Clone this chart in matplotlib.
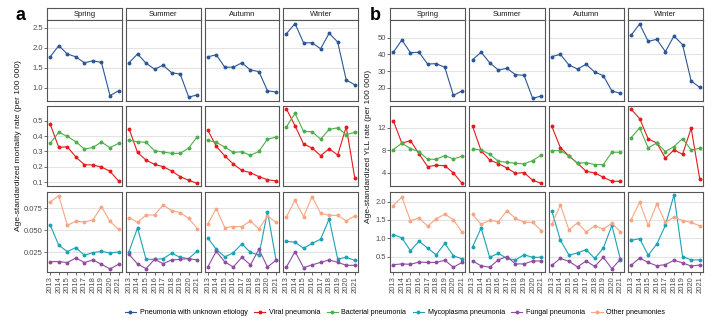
import matplotlib.pyplot as plt
from matplotlib.lines import Line2D

plt.rcParams['font.family'] = ['Liberation Sans', 'DejaVu Sans']

years = list(range(2013, 2022))
seasons = ["Spring", "Summer", "Autumn", "Winter"]

# --- age-standardized mortality rate (per 100 000), one list per season ---
mort_unknown = [
    [1.78, 2.06, 1.85, 1.78, 1.63, 1.68, 1.64, 0.81, 0.93],
    [1.63, 1.85, 1.62, 1.47, 1.57, 1.38, 1.35, 0.77, 0.83],
    [1.78, 1.83, 1.52, 1.52, 1.63, 1.45, 1.41, 0.93, 0.90],
    [2.36, 2.61, 2.13, 2.13, 1.98, 2.37, 2.15, 1.20, 1.08],
]
mort_viral = [
    [0.476, 0.326, 0.330, 0.263, 0.213, 0.211, 0.198, 0.170, 0.107],
    [0.448, 0.293, 0.243, 0.215, 0.200, 0.172, 0.135, 0.111, 0.091],
    [0.439, 0.333, 0.270, 0.217, 0.176, 0.161, 0.135, 0.115, 0.107],
    [0.576, 0.467, 0.348, 0.322, 0.272, 0.317, 0.276, 0.461, 0.126],
]
mort_bacterial = [
    [0.354, 0.424, 0.398, 0.363, 0.315, 0.326, 0.361, 0.324, 0.352],
    [0.372, 0.363, 0.359, 0.304, 0.296, 0.287, 0.287, 0.322, 0.396],
    [0.372, 0.359, 0.328, 0.293, 0.298, 0.274, 0.300, 0.380, 0.393],
    [0.461, 0.548, 0.430, 0.428, 0.380, 0.443, 0.454, 0.409, 0.424],
]
mort_myco = [
    [0.0557, 0.0330, 0.0258, 0.0303, 0.0216, 0.0246, 0.0261, 0.0242, 0.0254],
    [0.0258, 0.0527, 0.0170, 0.0170, 0.0178, 0.0239, 0.0193, 0.0178, 0.0265],
    [0.0413, 0.0284, 0.0197, 0.0246, 0.0345, 0.0250, 0.0216, 0.0712, 0.0163],
    [0.0375, 0.0364, 0.0295, 0.0352, 0.0398, 0.0629, 0.0174, 0.0193, 0.0159],
]
mort_fungal = [
    [0.0144, 0.0144, 0.0133, 0.0186, 0.0133, 0.0163, 0.0114, 0.0061, 0.0114],
    [0.0227, 0.0117, 0.0064, 0.0170, 0.0121, 0.0163, 0.0170, 0.0178, 0.0163],
    [0.0083, 0.0261, 0.0140, 0.0083, 0.0193, 0.0106, 0.0284, 0.0083, 0.0159],
    [0.0083, 0.0258, 0.0076, 0.0106, 0.0136, 0.0163, 0.0136, 0.0102, 0.0102],
]
mort_other = [
    [0.0822, 0.0894, 0.0557, 0.0602, 0.0595, 0.0617, 0.0769, 0.0602, 0.0511],
    [0.0644, 0.0591, 0.0674, 0.0674, 0.0788, 0.0723, 0.0701, 0.0636, 0.0519],
    [0.0572, 0.0746, 0.0530, 0.0542, 0.0542, 0.0606, 0.0515, 0.0663, 0.0591],
    [0.0655, 0.0841, 0.0655, 0.0883, 0.0693, 0.0670, 0.0670, 0.0606, 0.0663],
]

# --- age-standardized YLL rate (per 100 000) ---
yll_unknown = [
    [41.2, 48.6, 41.0, 41.2, 34.2, 34.4, 32.2, 15.4, 18.0],
    [36.8, 41.2, 35.0, 30.6, 31.6, 27.8, 27.4, 13.6, 15.0],
    [38.6, 40.0, 33.6, 31.2, 34.0, 29.4, 27.2, 18.0, 16.6],
    [51.4, 58.2, 47.8, 49.0, 41.6, 51.0, 45.8, 24.0, 20.2],
]
yll_viral = [
    [13.24, 9.24, 9.71, 7.35, 5.12, 5.35, 5.29, 4.00, 2.18],
    [12.24, 7.94, 6.29, 5.65, 4.88, 3.94, 4.06, 2.71, 2.18],
    [12.24, 8.47, 7.00, 5.71, 4.29, 4.00, 3.24, 2.53, 2.53],
    [15.24, 13.59, 10.00, 9.29, 6.59, 8.06, 7.29, 11.88, 2.94],
]
yll_bacterial = [
    [8.12, 9.24, 8.29, 7.76, 6.41, 6.41, 7.06, 6.47, 6.94],
    [8.24, 8.06, 7.29, 6.06, 5.88, 5.71, 5.59, 6.18, 7.18],
    [7.94, 7.94, 7.00, 5.71, 5.82, 5.47, 5.47, 7.65, 7.65],
    [10.18, 11.94, 8.41, 9.29, 7.76, 8.65, 10.06, 8.06, 8.35],
]
yll_myco = [
    [1.10, 1.01, 0.66, 0.92, 0.73, 0.55, 0.86, 0.52, 0.44],
    [0.76, 1.28, 0.48, 0.59, 0.45, 0.41, 0.55, 0.48, 0.48],
    [1.75, 0.95, 0.54, 0.60, 0.69, 0.45, 0.73, 1.35, 0.41],
    [0.94, 0.99, 0.54, 0.84, 1.35, 2.18, 0.50, 0.41, 0.41],
]
yll_fungal = [
    [0.28, 0.30, 0.29, 0.35, 0.34, 0.34, 0.40, 0.21, 0.34],
    [0.38, 0.25, 0.21, 0.41, 0.50, 0.30, 0.30, 0.38, 0.38],
    [0.26, 0.45, 0.37, 0.22, 0.38, 0.23, 0.48, 0.17, 0.43],
    [0.26, 0.46, 0.34, 0.25, 0.28, 0.40, 0.33, 0.24, 0.27],
]
yll_other = [
    [1.89, 2.12, 1.48, 1.55, 1.33, 1.53, 1.66, 1.50, 1.17],
    [1.65, 1.38, 1.49, 1.45, 1.75, 1.54, 1.44, 1.43, 1.21],
    [1.38, 1.90, 1.23, 1.42, 1.17, 1.34, 1.25, 1.41, 1.17],
    [1.50, 1.98, 1.35, 1.94, 1.43, 1.58, 1.48, 1.43, 1.34],
]

causes = ["Pneumonia with unknown etiology", "Viral pneumonia", "Bacterial pneumonia",
          "Mycoplasma pneumonia", "Fungal pneumonia", "Other pneumonies"]
colors = ["#2B5797", "#E41A1C", "#4DAF4A", "#1AA3B5", "#8E4DA0", "#F7A684"]

W, H = 712, 328
fig = plt.figure(figsize=(W / 100, H / 100), dpi=100)


def px(x0, y0, x1, y1):
    return [x0 / W, 1 - y1 / H, (x1 - x0) / W, (y1 - y0) / H]


rows_px = [(20, 101), (106, 186), (192, 272)]
strip_px = (8, 20)

panels = [
    dict(letter="a", left=47, width=74.75, label_x=19, letter_x=16,
         ylabel="Age-standardized mortality rate (per 100 000)",
         rows=[[(0, mort_unknown)],
               [(1, mort_viral), (2, mort_bacterial)],
               [(3, mort_myco), (4, mort_fungal), (5, mort_other)]],
         ylims=[(0.675, 2.7), (0.074, 0.596), (0.0026, 0.0935)],
         yticks=[[1.0, 1.5, 2.0, 2.5], [0.1, 0.2, 0.3, 0.4, 0.5], [0.025, 0.050, 0.075]],
         yfmt=["{:.1f}", "{:.1f}", "{:.3f}"]),
    dict(letter="b", left=390, width=75.25, label_x=369, letter_x=370,
         ylabel="Age-standardized YLL rate (per 100 000)",
         rows=[[(0, yll_unknown)],
               [(1, yll_viral), (2, yll_bacterial)],
               [(3, yll_myco), (4, yll_fungal), (5, yll_other)]],
         ylims=[(12, 60.6), (1.7, 15.8), (0.08, 2.26)],
         yticks=[[20, 30, 40, 50], [4, 8, 12], [0.5, 1.0, 1.5, 2.0]],
         yfmt=["{:.0f}", "{:.0f}", "{:.1f}"]),
]

edge = "#555555"
for p in panels:
    for c, season in enumerate(seasons):
        x0 = p["left"] + c * (p["width"] + 4)
        x1 = x0 + p["width"]
        # facet strip
        sax = fig.add_axes(px(x0, strip_px[0], x1, strip_px[1]))
        sax.set_xticks([])
        sax.set_yticks([])
        for s in sax.spines.values():
            s.set_color(edge)
            s.set_linewidth(0.8)
        sax.text(0.5, 0.45, season, ha="center", va="center", fontsize=5.5,
                 color="#1A1A1A", transform=sax.transAxes)
        for r, (y0, y1) in enumerate(rows_px):
            ax = fig.add_axes(px(x0, y0, x1, y1))
            for idx, series in p["rows"][r]:
                ax.plot(years, series[c], color=colors[idx], lw=0.8,
                        marker="o", ms=1.8, zorder=3)
            ax.set_xlim(2012.62, 2021.38)
            ax.set_ylim(*p["ylims"][r])
            ax.set_yticks(p["yticks"][r])
            ax.grid(axis="y", color="#E3E3E3", lw=0.8)
            ax.set_axisbelow(True)
            for s in ax.spines.values():
                s.set_color(edge)
                s.set_linewidth(0.8)
            ax.tick_params(length=2, width=0.5, color="#333333", pad=1,
                           labelsize=5.5, labelcolor="#4D4D4D")
            if c == 0:
                ax.set_yticklabels([p["yfmt"][r].format(v) for v in p["yticks"][r]])
            else:
                ax.tick_params(axis="y", length=0, labelleft=False)
            ax.set_xticks(years)
            if r == 2:
                ax.set_xticklabels([str(y) for y in years], rotation=90)
            else:
                ax.tick_params(axis="x", length=0, labelbottom=False)
    fig.text(p["label_x"] / W, 1 - 146 / H, p["ylabel"], rotation=90,
             ha="center", va="center", fontsize=6, color="#1A1A1A")
    fig.text(p["letter_x"] / W, 1 - 15 / H, p["letter"], ha="left", va="center",
             fontsize=13, fontweight="bold")

handles = [Line2D([], [], color=col, lw=0.8, marker="o", ms=1.8) for col in colors]
fig.legend(handles, causes, loc="center", bbox_to_anchor=(395 / W, 1 - 313 / H),
           ncol=6, frameon=False, fontsize=5.1, handlelength=1.6, handletextpad=0.5,
           columnspacing=0.9)

fig.savefig("out.png", dpi=100)
